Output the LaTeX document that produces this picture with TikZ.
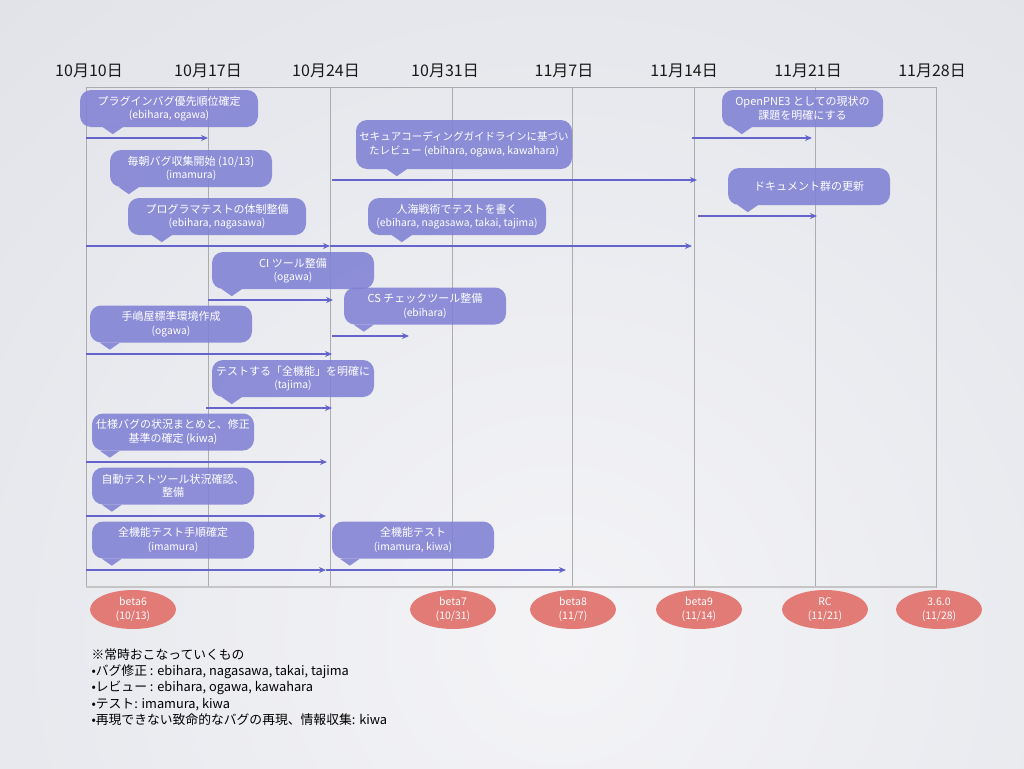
\documentclass[tikz,border=0pt]{standalone}
\usepackage{fontspec}
\setmainfont{Noto Sans CJK JP}
\usetikzlibrary{shapes.geometric,arrows.meta}

\definecolor{bubblefill}{RGB}{128,129,212}
\definecolor{spanline}{RGB}{100,100,204}
\definecolor{releasefill}{RGB}{226,122,118}
\definecolor{gridgray}{RGB}{172,172,174}
\definecolor{bgouter}{RGB}{208,212,220}
\definecolor{bginner}{RGB}{244,244,247}
\newcommand{\members}[1]{{\fontsize{10.3}{13}\selectfont(#1)}}
\newcommand{\bubbletip}[2]{\fill[bubblefill,fill opacity=0.88]
	([xshift=#2pt-10pt]#1.south west) -- ++(20,0) -- ++(-10,7) -- cycle;}

\begin{document}
\begin{tikzpicture}[x=1pt,y=-1pt,font=\fontsize{11}{13.5}\selectfont,>={Stealth[length=7pt,width=6pt]}]
	
	% Styles for task callouts, spans and releases
	\tikzset{
		taskbox/.style={fill=bubblefill,fill opacity=0.88,text opacity=1,text=white,
			rounded corners=11pt,align=center,inner sep=0pt,
			minimum width=162pt,minimum height=37pt},
		spanarrow/.style={->,draw=spanline,line width=1.8pt},
		datelabel/.style={text=black!90,font=\fontsize{16}{19}\selectfont},
		milestone/.style={ellipse,fill=releasefill,text=white,inner sep=0pt,
			minimum width=86pt,minimum height=39pt,align=center,
			font=\fontsize{10.5}{14}\selectfont}
	}
	
	% Background
	\useasboundingbox (0,0) rectangle (1024,768);
	\fill[bgouter] (0,0) rectangle (1024,768);
	\begin{scope}
		\clip (0,0) rectangle (1024,768);
		\shade[inner color=bginner,outer color=bgouter] (560,640) circle (1600);
	\end{scope}
	
	%========================================
	% Weekly grid and dates
	%========================================
	\draw[gridgray,line width=1pt] (86,87) rectangle (936,587);
	\foreach \x in {208,330,452,572,694,815}
	\draw[gridgray,line width=1pt] (\x,87) -- (\x,587);
	\draw[gridgray!70,line width=2pt] (86,587) -- (936,587);
	
	\foreach \x/\d [count=\i] in {89/10月10日,208/10月17日,326/10月24日,445/10月31日,
		564/11月7日,684/11月14日,808/11月21日,932/11月28日}
	\node[datelabel] (date\i) at (\x,71) {\d};
	
	%========================================
	% Tasks (callout above, span arrow below)
	%========================================
	
	% Plugin bug priorities
	\node[taskbox,minimum width=178pt] (plugin) at (169,108.5)
	{プラグインバグ優先順位確定\\\members{ebihara, ogawa}};
	\bubbletip{plugin}{33}
	\coordinate (pluginS) at (86,138);
	\coordinate (pluginE) at (208,138);
	\draw[spanarrow] (pluginS) -- (pluginE);
	
	% Daily bug collection (no span)
	\node[taskbox] (daily) at (191,168.5)
	{毎朝バグ収集開始 (10/13)\\\members{imamura}};
	\bubbletip{daily}{19}
	
	% Programmer test setup
	\node[taskbox,minimum width=178pt] (progtest) at (217,216.5)
	{プログラマテストの体制整備\\\members{ebihara, nagasawa}};
	\bubbletip{progtest}{34}
	\coordinate (progtestS) at (86,246);
	\coordinate (progtestE) at (330,246);
	\draw[spanarrow] (progtestS) -- (progtestE);
	
	% Secure coding review
	\node[taskbox,minimum width=216pt,minimum height=49pt,font=\fontsize{10.5}{13.5}\selectfont]
	(secure) at (464,144.5)
	{セキュアコーディングガイドラインに基づい\\たレビュー (ebihara, ogawa, kawahara)};
	\bubbletip{secure}{41}
	\coordinate (secureS) at (332,180);
	\coordinate (secureE) at (697,180);
	\draw[spanarrow] (secureS) -- (secureE);
	
	% Writing tests in force
	\node[taskbox,minimum width=178pt] (writetest) at (457,216.5)
	{人海戦術でテストを書く\\\members{ebihara, nagasawa, takai, tajima}};
	\bubbletip{writetest}{34}
	\coordinate (writetestE) at (692,246);
	\draw[spanarrow] (progtestE) -- (writetestE);
	
	% Current issues of OpenPNE3
	\node[taskbox,minimum width=161pt] (issues) at (802.5,108.5)
	{OpenPNE3 としての現状の\\課題を明確にする};
	\bubbletip{issues}{20}
	\coordinate (issuesS) at (692,138);
	\coordinate (issuesE) at (812,138);
	\draw[spanarrow] (issuesS) -- (issuesE);
	
	% Documents update
	\node[taskbox] (docs) at (809,186.5) {ドキュメント群の更新};
	\bubbletip{docs}{20}
	\coordinate (docsS) at (698,216);
	\coordinate (docsE) at (817,216);
	\draw[spanarrow] (docsS) -- (docsE);
	
	% CI tool
	\node[taskbox] (citool) at (293,270.5)
	{CI ツール整備\\\members{ogawa}};
	\bubbletip{citool}{20}
	\coordinate (citoolS) at (208,300);
	\coordinate (citoolE) at (333,300);
	\draw[spanarrow] (citoolS) -- (citoolE);
	
	% CS check tool
	\node[taskbox] (cstool) at (425,306)
	{CS チェックツール整備\\\members{ebihara}};
	\bubbletip{cstool}{20}
	\coordinate (cstoolS) at (332,336);
	\coordinate (cstoolE) at (409,336);
	\draw[spanarrow] (cstoolS) -- (cstoolE);
	
	% Standard environment
	\node[taskbox] (stdenv) at (171,324)
	{手嶋屋標準環境作成\\\members{ogawa}};
	\bubbletip{stdenv}{20}
	\coordinate (stdenvS) at (86,354);
	\coordinate (stdenvE) at (332,354);
	\draw[spanarrow] (stdenvS) -- (stdenvE);
	
	% Define all functions to test
	\node[taskbox] (allfunc) at (293,378.5)
	{テストする「全機能」を明確に\\\members{tajima}};
	\bubbletip{allfunc}{20}
	\coordinate (allfuncS) at (206,408);
	\coordinate (allfuncE) at (332,408);
	\draw[spanarrow] (allfuncS) -- (allfuncE);
	
	% Specification bugs
	\node[taskbox] (specbug) at (173,432)
	{仕様バグの状況まとめと、修正\\基準の確定 (kiwa)};
	\bubbletip{specbug}{18}
	\coordinate (specbugS) at (86,462);
	\coordinate (specbugE) at (327,462);
	\draw[spanarrow] (specbugS) -- (specbugE);
	
	% Automated test tools
	\node[taskbox] (autotool) at (173,486)
	{自動テストツール状況確認、\\整備};
	\bubbletip{autotool}{20}
	\coordinate (autotoolS) at (86,516);
	\coordinate (autotoolE) at (326,516);
	\draw[spanarrow] (autotoolS) -- (autotoolE);
	
	% Full test procedure
	\node[taskbox] (procedure) at (173,540)
	{全機能テスト手順確定\\\members{imamura}};
	\bubbletip{procedure}{20}
	\coordinate (procedureS) at (86,570);
	\coordinate (procedureE) at (326,570);
	\draw[spanarrow] (procedureS) -- (procedureE);
	
	% Full test
	\node[taskbox] (fulltest) at (413,540)
	{全機能テスト\\\members{imamura, kiwa}};
	\bubbletip{fulltest}{18}
	\coordinate (fulltestE) at (566,570);
	\draw[spanarrow] (procedureE) -- (fulltestE);
	
	%========================================
	% Releases
	%========================================
	\node[milestone] (beta6) at (133,609.5) {beta6\\(10/13)};
	\node[milestone] (beta7) at (453,609.5) {beta7\\(10/31)};
	\node[milestone] (beta8) at (573,609.5) {beta8\\(11/7)};
	\node[milestone] (beta9) at (699,609.5) {beta9\\(11/14)};
	\node[milestone] (rc)    at (825,609.5) {RC\\(11/21)};
	\node[milestone] (final) at (939,609.5) {3.6.0\\(11/28)};
	
	% Ongoing work
	\node[anchor=north west,align=left,text=black,font=\fontsize{12.8}{16.3}\selectfont] (ongoing) at (88,645)
	{{\fontsize{12.8}{16.3}\selectfont ※常時おこなっていくもの}\\
		•バグ修正 : ebihara, nagasawa, takai, tajima\\
		•レビュー : ebihara, ogawa, kawahara\\
		•テスト: imamura, kiwa\\
		•再現できない致命的なバグの再現、情報収集: kiwa};
	
\end{tikzpicture}
\end{document}
